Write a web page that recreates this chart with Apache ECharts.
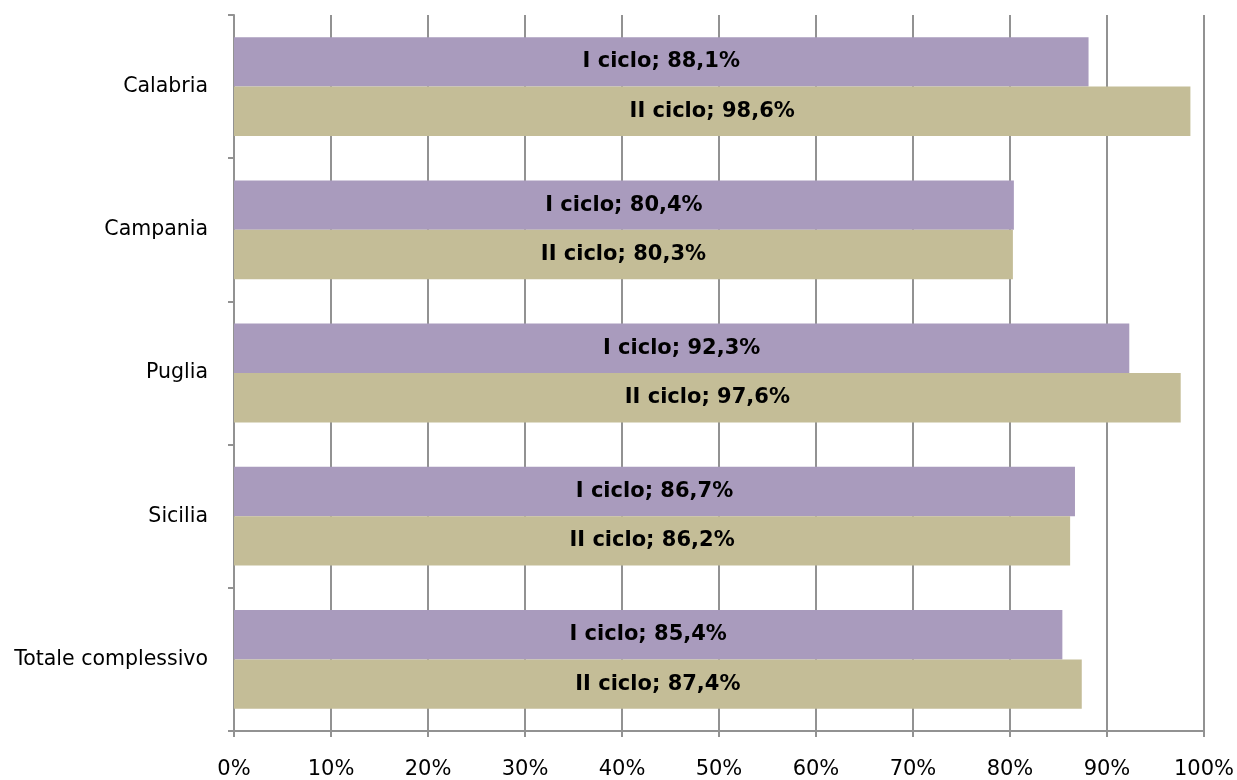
<!DOCTYPE html>
<html><head><meta charset="utf-8">
<script src="https://cdn.jsdelivr.net/npm/echarts@6/dist/echarts.min.js"></script>
<style>html,body{margin:0;padding:0;background:#fff}#c{width:1237px;height:780px}</style>
</head><body><div id="c"></div>
<script>
const categories = ["Calabria", "Campania", "Puglia", "Sicilia", "Totale complessivo"];
const seriesNames = ["I ciclo", "II ciclo"];
const ciclo1 = [88.1, 80.4, 92.3, 86.7, 85.4];
const ciclo2 = [98.6, 80.3, 97.6, 86.2, 87.4];
const xTicks = [0, 10, 20, 30, 40, 50, 60, 70, 80, 90, 100];

const font = "DejaVu Sans";
const fmt = v => v.toFixed(1).replace('.', ',');
function mkSeries(name, data, color) {
  return {
    name, type: 'bar', data, barGap: '0%', barCategoryGap: '31%',
    itemStyle: { color },
    label: { show: true, position: 'inside', color: '#000', fontFamily: font, fontWeight: 'bold', fontSize: 21,
      formatter: p => p.seriesName + '; ' + fmt(p.value) + '%' }
  };
}
const chart = echarts.init(document.getElementById('c'));
chart.setOption({
  animation: false,
  grid: { left: 234, right: 33, top: 15, bottom: 49, containLabel: false },
  xAxis: {
    type: 'value', min: 0, max: 100, interval: 10,
    axisLine: { show: true, lineStyle: { color: '#929292', width: 2 } },
    axisTick: { show: true, length: 6, lineStyle: { color: '#929292', width: 2 } },
    splitLine: { show: true, lineStyle: { color: '#929292', width: 2 } },
    axisLabel: { formatter: v => xTicks.includes(v) ? v + '%' : '', color: '#000', fontFamily: font, fontSize: 21, margin: 28 }
  },
  yAxis: {
    type: 'category', data: categories, inverse: true,
    axisLine: { show: true, lineStyle: { color: '#929292', width: 2 } },
    axisTick: { show: true, length: 6, lineStyle: { color: '#929292', width: 2 } },
    axisLabel: { color: '#000', fontFamily: font, fontSize: 20.5, margin: 26 }
  },
  series: [mkSeries(seriesNames[0], ciclo1, '#A99BBD'), mkSeries(seriesNames[1], ciclo2, '#C4BD97')]
});
</script></body></html>
